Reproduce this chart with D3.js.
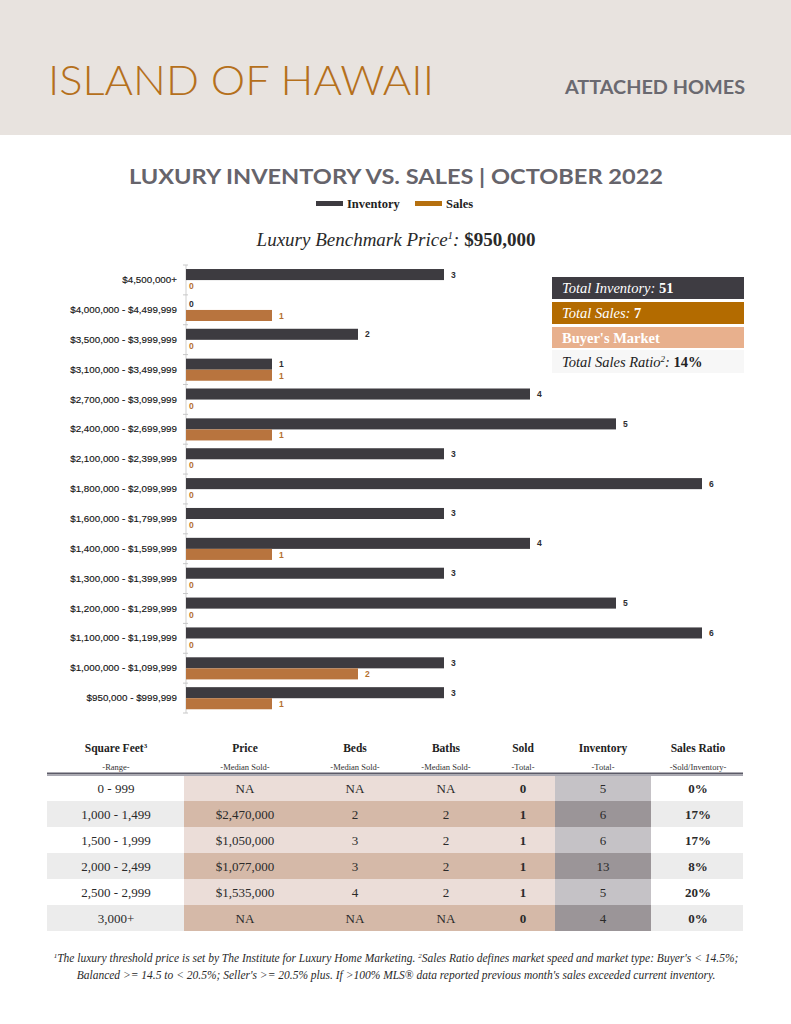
<!DOCTYPE html>
<html>
<head>
<meta charset="utf-8">
<script src="https://cdn.jsdelivr.net/npm/d3@7"></script>
<style>
  html, body { margin: 0; padding: 0; background: #fff; }
  svg { display: block; }
</style>
</head>
<body>
<svg id="chart" width="791" height="1024"></svg>
<script>
// ---------------- DATA ----------------
const categories = [
  "$4,500,000+", "$4,000,000 - $4,499,999", "$3,500,000 - $3,999,999",
  "$3,100,000 - $3,499,999", "$2,700,000 - $3,099,999", "$2,400,000 - $2,699,999",
  "$2,100,000 - $2,399,999", "$1,800,000 - $2,099,999", "$1,600,000 - $1,799,999",
  "$1,400,000 - $1,599,999", "$1,300,000 - $1,399,999", "$1,200,000 - $1,299,999",
  "$1,100,000 - $1,199,999", "$1,000,000 - $1,099,999", "$950,000 - $999,999"
];
const inventory = [3, 0, 2, 1, 4, 5, 3, 6, 3, 4, 3, 5, 6, 3, 3];
const sales     = [0, 1, 0, 1, 0, 1, 0, 0, 0, 1, 0, 0, 0, 2, 1];

const tableHeaders = ["Square Feet³", "Price", "Beds", "Baths", "Sold", "Inventory", "Sales Ratio"];
const tableSubHeaders = ["-Range-", "-Median Sold-", "-Median Sold-", "-Median Sold-", "-Total-", "-Total-", "-Sold/Inventory-"];
const sqftRanges = ["0 - 999", "1,000 - 1,499", "1,500 - 1,999", "2,000 - 2,499", "2,500 - 2,999", "3,000+"];
const medianPrice = ["NA", "$2,470,000", "$1,050,000", "$1,077,000", "$1,535,000", "NA"];
const medianBeds = ["NA", "2", "3", "3", "4", "NA"];
const medianBaths = ["NA", "2", "2", "2", "2", "NA"];
const soldTotal = [0, 1, 1, 1, 1, 0];
const inventoryTotal = [5, 6, 6, 13, 5, 4];
const salesRatio = ["0%", "17%", "17%", "8%", "20%", "0%"];

const totalInventory = 51;
const totalSales = 7;
const totalSalesRatio = "14%";
const marketType = "Buyer's Market";
const benchmarkPrice = "$950,000";

// ---------------- DRAW ----------------
const svg = d3.select("#chart");
const SERIF = "'Liberation Serif', 'DejaVu Serif', serif";
const SANS = "'Liberation Sans', Arial, sans-serif";
const GEO = "Lato, 'Open Sans', sans-serif";

// Header band
svg.append("rect").attr("x", 0).attr("y", 0).attr("width", 791).attr("height", 135).attr("fill", "#e8e3df");
svg.append("text").attr("x", 48).attr("y", 95)
  .attr("font-family", GEO).attr("font-weight", 300).attr("font-size", 41)
  .attr("fill", "#b5701c").attr("textLength", 386).attr("lengthAdjust", "spacingAndGlyphs")
  .text("ISLAND OF HAWAII");
svg.append("text").attr("x", 745).attr("y", 94).attr("text-anchor", "end")
  .attr("font-family", GEO).attr("font-weight", 700).attr("font-size", 18)
  .attr("fill", "#6a6970").attr("textLength", 180).attr("lengthAdjust", "spacingAndGlyphs")
  .text("ATTACHED HOMES");

// Title
svg.append("text").attr("x", 396).attr("y", 184).attr("text-anchor", "middle")
  .attr("font-family", GEO).attr("font-weight", 700).attr("font-size", 21)
  .attr("fill", "#66646b").attr("textLength", 534).attr("lengthAdjust", "spacingAndGlyphs")
  .text("LUXURY INVENTORY VS. SALES | OCTOBER 2022");

// Legend
const legendItems = [
  {label: "Inventory", color: "#3d3b40", x: 316},
  {label: "Sales", color: "#b5700f", x: 415}
];
const lg = svg.append("g");
legendItems.forEach(d => {
  lg.append("rect").attr("x", d.x).attr("y", 201).attr("width", 27).attr("height", 5).attr("fill", d.color);
  lg.append("text").attr("x", d.x + 31).attr("y", 208)
    .attr("font-family", SERIF).attr("font-weight", 700).attr("font-size", 12.5).attr("fill", "#222")
    .text(d.label);
});

// Benchmark
const bm = svg.append("text").attr("x", 396).attr("y", 246).attr("text-anchor", "middle")
  .attr("font-family", SERIF).attr("font-size", 19).attr("fill", "#2a2a2a");
bm.append("tspan").attr("font-style", "italic").text("Luxury Benchmark Price");
bm.append("tspan").attr("font-style", "italic").attr("font-size", 11).attr("dy", -7).text("1");
bm.append("tspan").attr("font-style", "italic").attr("dy", 7).text(": ");
bm.append("tspan").attr("font-weight", 700).text(benchmarkPrice);

// Chart scales
const y = d3.scaleBand().domain(categories).range([265, 713]);
const x = d3.scaleLinear().domain([0, 6]).range([186, 702]);
const bw = y.bandwidth();
const barH = bw * 0.37;
const barOff = bw * 0.135;

const chart = svg.append("g");

// axis line & boundary ticks
chart.append("line").attr("x1", x(0)).attr("x2", x(0)).attr("y1", y.range()[0]).attr("y2", y.range()[1])
  .attr("stroke", "#cfcfcf").attr("stroke-width", 1);
d3.range(categories.length + 1).forEach(i => {
  const yy = y.range()[0] + i * y.step();
  chart.append("line").attr("x1", x(0) - 3).attr("x2", x(0) + 2).attr("y1", yy).attr("y2", yy)
    .attr("stroke", "#c8c8c8").attr("stroke-width", 1);
});

// y labels via axis
const yAxis = d3.axisLeft(y).tickSize(0).tickPadding(9);
const ag = chart.append("g").attr("transform", `translate(${x(0)},0)`).call(yAxis);
ag.select(".domain").remove();
ag.selectAll("text").attr("font-family", SANS).attr("font-size", 9.8).attr("fill", "#151515")
  .attr("stroke", "#151515").attr("stroke-width", 0.15);

// bars
const rows = categories.map((c, i) => ({c, inv: inventory[i], sal: sales[i]}));
chart.selectAll(".inv").data(rows).join("rect").attr("class", "inv")
  .attr("x", x(0)).attr("y", d => y(d.c) + barOff)
  .attr("width", d => x(d.inv) - x(0)).attr("height", barH).attr("fill", "#3d3b40");
chart.selectAll(".sal").data(rows).join("rect").attr("class", "sal")
  .attr("x", x(0)).attr("y", d => y(d.c) + barOff + barH)
  .attr("width", d => x(d.sal) - x(0)).attr("height", barH).attr("fill", "#b8743e");

chart.selectAll(".invl").data(rows).join("text").attr("class", "invl")
  .attr("x", d => x(d.inv) + (d.inv > 0 ? 7 : 3)).attr("y", d => y(d.c) + barOff + barH / 2 + 3)
  .attr("font-family", SANS).attr("font-weight", 700).attr("font-size", 8.5).attr("fill", "#2e2d31")
  .text(d => d.inv);
chart.selectAll(".sall").data(rows).join("text").attr("class", "sall")
  .attr("x", d => x(d.sal) + (d.sal > 0 ? 7 : 3)).attr("y", d => y(d.c) + barOff + barH * 1.5 + 3.5)
  .attr("font-family", SANS).attr("font-weight", 700).attr("font-size", 8.5).attr("fill", "#b5702f")
  .text(d => d.sal);

// Info boxes
const boxes = [
  {y: 277, h: 22, fill: "#3e3c42", parts: [["Total Inventory: ", "italic", 400], [String(totalInventory), "normal", 700]], color: "#fff"},
  {y: 302, h: 22, fill: "#b36b00", parts: [["Total Sales: ", "italic", 400], [String(totalSales), "normal", 700]], color: "#fff"},
  {y: 327, h: 21, fill: "#e8b08d", parts: [[marketType, "normal", 700]], color: "#fff"},
  {y: 350, h: 23, fill: "#f7f7f7", parts: [["Total Sales Ratio", "italic", 400], ["2", "italic", 400, true], [": ", "italic", 400], [totalSalesRatio, "normal", 700]], color: "#222"}
];
boxes.forEach(b => {
  svg.append("rect").attr("x", 552).attr("y", b.y).attr("width", 192).attr("height", b.h).attr("fill", b.fill);
  const t = svg.append("text").attr("x", 562).attr("y", b.y + b.h / 2 + 5)
    .attr("font-family", SERIF).attr("font-size", 14.5).attr("fill", b.color);
  let sup = false;
  b.parts.forEach(p => {
    const ts = t.append("tspan").attr("font-style", p[1]).attr("font-weight", p[2]).text(p[0]);
    if (p[3]) { ts.attr("font-size", 9).attr("dy", -5); sup = true; }
    else if (sup) { ts.attr("dy", 5); sup = false; }
  });
});

// ---------------- TABLE ----------------
const colCenters = [116, 245, 355, 446, 523, 603, 698];
const tableLeft = 47, tableRight = 743;
const rowTop = 775, rowH = 26;

const tg = svg.append("g");
// row backgrounds
sqftRanges.forEach((r, i) => {
  const yy = rowTop + i * rowH;
  const dark = i % 2 === 1;
  tg.append("rect").attr("x", tableLeft).attr("y", yy).attr("width", tableRight - tableLeft).attr("height", rowH)
    .attr("fill", dark ? "#ececec" : "#ffffff");
  tg.append("rect").attr("x", 184).attr("y", yy).attr("width", 555 - 184).attr("height", rowH)
    .attr("fill", dark ? "#d5b9a8" : "#ebddd8");
  tg.append("rect").attr("x", 555).attr("y", yy).attr("width", 651 - 555).attr("height", rowH)
    .attr("fill", dark ? "#9b9598" : "#c5c2c6");
});
// header line
tg.append("line").attr("x1", tableLeft).attr("x2", tableRight).attr("y1", 773.5).attr("y2", 773.5)
  .attr("stroke", "#5c5b68").attr("stroke-width", 2);
tg.append("line").attr("x1", tableLeft).attr("x2", tableRight).attr("y1", 775.5).attr("y2", 775.5)
  .attr("stroke", "#a9a8b2").attr("stroke-width", 1);

tableHeaders.forEach((h, i) => {
  const t = tg.append("text").attr("x", colCenters[i]).attr("y", 752).attr("text-anchor", "middle")
    .attr("font-family", SERIF).attr("font-weight", 700).attr("font-size", 11.5).attr("fill", "#222");
  if (h.endsWith("³")) {
    t.append("tspan").text(h.slice(0, -1));
    t.append("tspan").attr("font-size", 7).attr("dy", -4).text("3");
  } else t.text(h);
  tg.append("text").attr("x", colCenters[i]).attr("y", 770).attr("text-anchor", "middle")
    .attr("font-family", SERIF).attr("font-size", 8.5).attr("fill", "#333").text(tableSubHeaders[i]);
});

const cols = [sqftRanges, medianPrice, medianBeds, medianBaths, soldTotal, inventoryTotal, salesRatio];
const bold = [false, false, false, false, true, false, true];
cols.forEach((col, ci) => {
  col.forEach((v, ri) => {
    tg.append("text").attr("x", colCenters[ci]).attr("y", rowTop + ri * rowH + rowH / 2 + 4.5)
      .attr("text-anchor", "middle").attr("font-family", SERIF)
      .attr("font-weight", bold[ci] ? 700 : 400).attr("font-size", 13).attr("fill", "#2a2a2a")
      .text(v);
  });
});

// Footnote
const fn1 = svg.append("text").attr("x", 396).attr("y", 962).attr("text-anchor", "middle")
  .attr("font-family", SERIF).attr("font-style", "italic").attr("font-size", 11.5).attr("fill", "#2a2a2a");
fn1.append("tspan").attr("font-size", 7).attr("dy", -4).text("1");
fn1.append("tspan").attr("dy", 4).text("The luxury threshold price is set by The Institute for Luxury Home Marketing. ");
fn1.append("tspan").attr("font-size", 7).attr("dy", -4).text("2");
fn1.append("tspan").attr("dy", 4).text("Sales Ratio defines market speed and market type: Buyer's < 14.5%;");
svg.append("text").attr("x", 396).attr("y", 979).attr("text-anchor", "middle")
  .attr("font-family", SERIF).attr("font-style", "italic").attr("font-size", 11.5).attr("fill", "#2a2a2a")
  .text("Balanced >= 14.5 to < 20.5%; Seller's >= 20.5% plus. If >100% MLS® data reported previous month's sales exceeded current inventory.");
</script>
</body>
</html>
